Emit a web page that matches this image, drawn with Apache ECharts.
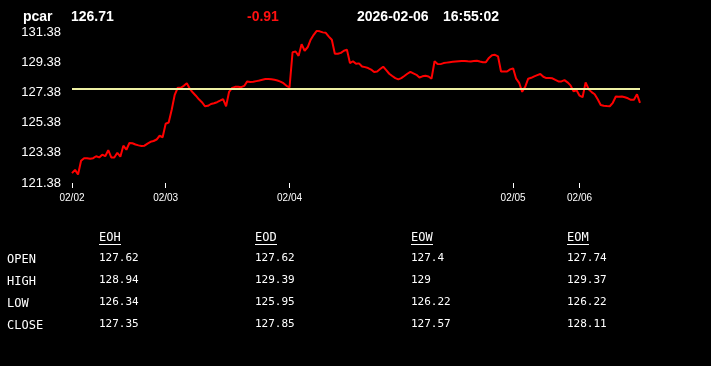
<!DOCTYPE html>
<html>
<head>
<meta charset="utf-8">
<script src="https://cdn.jsdelivr.net/npm/echarts@6/dist/echarts.min.js"></script>
<style>
html,body{margin:0;padding:0;background:#000;}
#chart{width:711px;height:366px;}
</style>
</head>
<body>
<div id="chart"></div>
<script>
// ---- header ----
const symbol = 'pcar';
const lastPrice = '126.71';
const change = '-0.91';
const dateText = '2026-02-06';
const timeText = '16:55:02';
const prevClose = 127.62;

// ---- axis ----
const yBase = 121.38;
const yStep = 2;
const dayLabels = ['02/02', '02/03', '02/04', '02/05', '02/06'];

// ---- intraday prices per day ----
const day1 = [122.04,122.25,121.95,122.86,123.03,123.02,122.99,123.03,123.16,123.08,
  123.26,123.16,123.56,123.08,123.08,123.39,123.13,123.86,123.59,124.04,
  124.02,123.94,123.88,123.84,123.86,124.00,124.12,124.17,124.27,124.52,124.42];
const day2 = [125.32,125.40,126.25,127.24,127.71,127.71,127.84,128.01,127.64,127.39,
  127.18,126.94,126.75,126.48,126.51,126.63,126.68,126.75,126.85,126.96,
  126.48,127.44,127.70,127.77,127.78,127.75,127.83,128.13,128.09,128.11,
  128.15,128.19,128.24,128.29,128.29,128.27,128.24,128.19,128.12,128.01,127.84];
const day3 = [127.74,130.07,130.12,129.83,130.60,130.17,130.40,130.90,131.23,131.49,
  131.46,131.39,131.36,131.11,130.90,129.97,129.97,130.03,130.17,130.23,
  129.35,129.47,129.30,129.33,129.12,129.08,129.02,128.92,128.75,128.79,
  128.95,129.11,128.88,128.64,128.49,128.35,128.27,128.35,128.49,128.64,
  128.77,128.66,128.57,128.39,128.47,128.51,128.46,128.32,129.47,129.29,
  129.28,129.35,129.38,129.41,129.43,129.45,129.47,129.49,129.49,129.47,
  129.46,129.48,129.50,129.45,129.41,129.41,129.69,129.87,129.90,129.80,
  128.79,128.79,128.79,128.93];
const day4 = [129.00,128.31,128.04,127.44,127.77,128.31,128.37,128.47,128.55,128.62,
  128.44,128.35,128.35,128.34,128.23,128.13,128.13,128.22,128.07,127.87,
  127.48,127.54];
const day5 = [127.18,127.08,128.07,127.61,127.42,127.28,126.94,126.56,126.51,126.49,
  126.48,126.71,127.13,127.12,127.13,127.08,127.01,126.91,126.91,127.28,126.71];

// ---- table ----
const tableCols = ['EOH', 'EOD', 'EOW', 'EOM'];
const tableRows = ['OPEN', 'HIGH', 'LOW', 'CLOSE'];
const eoh = ['127.62', '128.94', '126.34', '127.35'];
const eod = ['127.62', '129.39', '125.95', '127.85'];
const eow = ['127.4', '129', '126.22', '127.57'];
const eom = ['127.74', '129.37', '126.22', '128.11'];

// ---- build ----
const days = [day1, day2, day3, day4, day5];
const prices = [];
const categories = [];
const dayStart = [];
days.forEach((d, di) => {
  dayStart.push(prices.length);
  d.forEach((v, k) => { prices.push(v); categories.push(dayLabels[di] + ' ' + k); });
});
const yTop = yBase + 10.5;

const hdrFont = 'bold 14px "Liberation Sans", Arial, sans-serif';
const monoFont = '11px "DejaVu Sans Mono", monospace';
const monoFontL = '12px "DejaVu Sans Mono", monospace';
const graphics = [];
function txt(x, y, s, color, font) {
  graphics.push({type: 'text', left: x, top: y, silent: true,
    style: {text: s, fill: color, font: font, textVerticalAlign: 'middle'}});
}
txt(23, 10, symbol, '#fff', hdrFont);
txt(71, 10, lastPrice, '#fff', hdrFont);
txt(247, 10, change, '#ff1010', hdrFont);
txt(357, 10, dateText, '#fff', hdrFont);
txt(443, 10, timeText, '#fff', hdrFont);

const colVals = [eoh, eod, eow, eom];
const colX = [99, 255, 411, 567];
const rowY = [258, 280, 302, 324];
tableCols.forEach((c, ci) => {
  graphics.push({type: 'text', x: colX[ci], y: 238, silent: true,
    style: {text: c, fill: '#fff', font: monoFontL, verticalAlign: 'middle'}});
  graphics.push({type: 'line', silent: true,
    shape: {x1: colX[ci], y1: 244.5, x2: colX[ci] + 22, y2: 244.5},
    style: {stroke: '#fff', lineWidth: 1}});
  colVals[ci].forEach((v, ri) => {
    graphics.push({type: 'text', x: colX[ci], y: rowY[ri], silent: true,
      style: {text: v, fill: '#fff', font: monoFont, verticalAlign: 'middle'}});
  });
});
tableRows.forEach((r, ri) => {
  graphics.push({type: 'text', x: 7, y: rowY[ri] + 1.5, silent: true,
    style: {text: r, fill: '#fff', font: monoFontL, verticalAlign: 'middle'}});
});

const chart = echarts.init(document.getElementById('chart'), null, {renderer: 'canvas'});
chart.setOption({
  backgroundColor: '#000',
  animation: false,
  grid: {left: 72, right: 71, top: 25, bottom: 183, containLabel: false},
  xAxis: {
    type: 'category',
    data: categories,
    boundaryGap: false,
    axisLine: {show: false},
    axisTick: {show: true, length: 5, interval: (i) => dayStart.includes(i),
      lineStyle: {color: '#fff', width: 1}},
    axisLabel: {interval: (i) => dayStart.includes(i), color: '#fff', margin: 10,
      fontSize: 10, fontFamily: '"Liberation Sans", Arial, sans-serif',
      formatter: (v) => v.split(' ')[0]},
    splitLine: {show: false}
  },
  yAxis: [
    {type: 'value', min: yBase, max: yTop, show: false, splitLine: {show: false}},
    {type: 'value', min: 0, max: yTop - yBase, interval: yStep, position: 'left',
      axisLine: {show: false}, axisTick: {show: false}, splitLine: {show: false},
      axisLabel: {color: '#fff', margin: 11, fontSize: 13,
        fontFamily: '"Liberation Sans", Arial, sans-serif', showMaxLabel: false,
        formatter: (v) => (Math.abs(v / yStep - Math.round(v / yStep)) < 1e-6) ? (v + yBase).toFixed(2) : ''}}
  ],
  series: [{
    type: 'line',
    yAxisIndex: 0,
    data: prices,
    showSymbol: false,
    smooth: false,
    lineStyle: {color: '#ff0000', width: 2},
    silent: true,
    markLine: {
      silent: true, symbol: 'none', label: {show: false},
      lineStyle: {color: '#eef0a4', width: 2, type: 'solid'},
      data: [{yAxis: prevClose}]
    }
  }],
  graphic: graphics
});
</script>
</body>
</html>
